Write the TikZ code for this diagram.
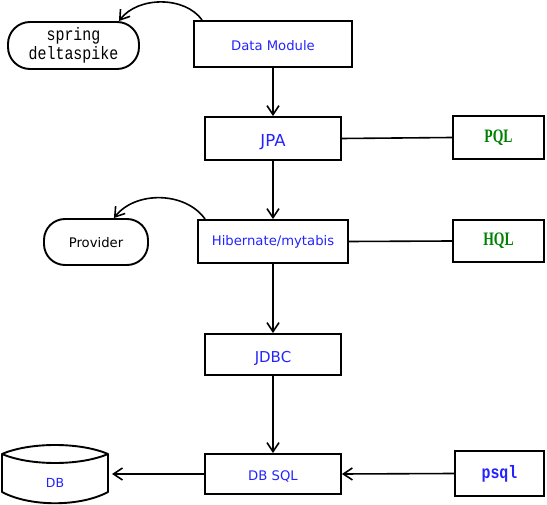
\documentclass[tikz,border=0pt]{standalone}
\usepackage{fontspec}
\setmainfont{DejaVu Sans}
\newfontfamily\monofnt[FakeStretch=0.83]{Liberation Mono}
\newfontfamily\serfnt[FakeStretch=0.72]{Liberation Serif}
\usetikzlibrary{arrows.meta}
\definecolor{txtblue}{RGB}{35,35,255}
\definecolor{txtgreen}{RGB}{0,128,0}
\tikzset{
  box/.style={draw, line width=1.9pt, rectangle, inner sep=0pt, align=center},
  pill/.style={box, rounded corners=22pt},
  tb/.style={text height=#1, text depth=0pt},
  conn/.style={line width=1.6pt},
  arr/.style={conn, -{Straight Barb[length=9pt,width=12pt,line width=1.6pt]}},
}
\begin{document}
\begin{tikzpicture}[x=1pt,y=-1pt]
\useasboundingbox (0,0) rectangle (547,505);
% nodes
\node[box, tb=14pt, minimum width=158pt, minimum height=46pt, font=\fontsize{13.2}{15}\selectfont, text=txtblue] (dm) at (273,44) {Data Module};
\node[pill, minimum width=131pt, minimum height=47pt, font=\monofnt\fontsize{18}{19}\selectfont] (spring) at (73.5,45.5) {spring\\deltaspike};
\node[box, tb=17pt, minimum width=136pt, minimum height=43pt, font=\fontsize{16.5}{18}\selectfont, text=txtblue] (jpa) at (273,138.5) {JPA};
\node[box, minimum width=91pt, minimum height=43pt, font=\serfnt\bfseries\fontsize{19}{20}\selectfont, text=txtgreen] (pql) at (498.5,137.5) {PQL};
\node[box, minimum width=150pt, minimum height=43pt, font=\fontsize{13.2}{15}\selectfont, text=txtblue] (hib) at (273,241.5) {Hibernate/mytabis};
\node[pill, tb=12pt, rounded corners=21pt, minimum width=104pt, minimum height=46pt, font=\fontsize{13.2}{15}\selectfont] (prov) at (96,242) {Provider};
\node[box, minimum width=91pt, minimum height=42pt, font=\serfnt\bfseries\fontsize{19}{20}\selectfont, text=txtgreen] (hql) at (498.5,241) {HQL};
\node[box, tb=17pt, minimum width=136pt, minimum height=41pt, font=\fontsize{15}{17}\selectfont, text=txtblue] (jdbc) at (273,354.5) {JDBC};
\node[box, tb=14pt, minimum width=136pt, minimum height=40pt, font=\fontsize{13.2}{15}\selectfont, text=txtblue] (dbsql) at (273,474) {DB SQL};
\node[box, minimum width=89pt, minimum height=45pt, font=\monofnt\bfseries\fontsize{18}{19}\selectfont, text=txtblue] (psql) at (499.5,473.5) {psql};
% DB cylinder
\draw[line width=1.9pt, line join=round] (2,454) .. controls (30,442) and (80,442) .. (108,454) -- (108,492) .. controls (80,507) and (30,507) .. (2,492) -- cycle;
\draw[line width=1.9pt] (2,454) .. controls (30,466) and (80,466) .. (108,454);
\node[font=\fontsize{12.5}{14}\selectfont, text=txtblue] (db) at (55,482.5) {DB};
\coordinate (dbr) at (112,474);
% connectors
\draw[arr] (dm) -- (jpa);
\draw[arr] (jpa) -- (hib);
\draw[arr] (hib) -- (jdbc);
\draw[arr] (jdbc) -- (dbsql);
\draw[conn] (jpa.east) -- (pql.west);
\draw[conn] (hib.east) -- (hql.west);
\draw[arr] (psql.west) -- (dbsql.east);
\draw[arr] (dbsql.west) -- (dbr);
\draw[arr] ([xshift=9pt]dm.north west) .. controls (185,-4) and (138,-4) .. ([xshift=-21pt]spring.north east);
\draw[arr] ([xshift=8pt]hib.north west) .. controls (185,191) and (135,191) .. ([xshift=-35pt]prov.north east);
\end{tikzpicture}
\end{document}
